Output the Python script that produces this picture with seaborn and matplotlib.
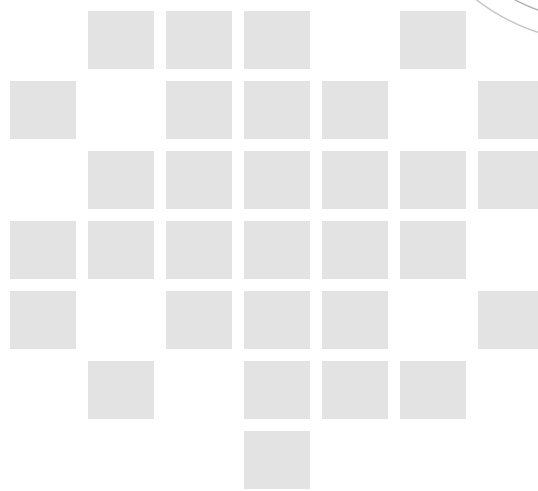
import matplotlib
matplotlib.use('Agg')
import matplotlib.pyplot as plt
import seaborn as sns
import numpy as np
import pandas as pd
from matplotlib.colors import ListedColormap
from matplotlib.patches import Arc

# grade de presença (1 = quadrado, 0 = vazio)
linha_0 = [0, 1, 1, 1, 0, 1, 0]
linha_1 = [1, 0, 1, 1, 1, 0, 1]
linha_2 = [0, 1, 1, 1, 1, 1, 1]
linha_3 = [1, 1, 1, 1, 1, 1, 0]
linha_4 = [1, 0, 1, 1, 1, 0, 1]
linha_5 = [0, 1, 0, 1, 1, 1, 0]
linha_6 = [0, 0, 0, 1, 0, 0, 0]

grade = pd.DataFrame([linha_0, linha_1, linha_2, linha_3, linha_4, linha_5, linha_6])
mascara = grade == 0

W, H = 538, 491
fig = plt.figure(figsize=(W / 100, H / 100), dpi=100)

# eixo do mapa (passa da borda direita, como no original)
ax = fig.add_axes([4 / W, -3.5 / H, 546 / W, 490 / H])
sns.heatmap(grade, mask=mascara, cmap=ListedColormap(['#e3e3e3']), cbar=False,
            linewidths=8.3, linecolor='white', ax=ax)
ax.set_axis_off()

# arcos decorativos no canto superior direito
ov = fig.add_axes([0, 0, 1, 1])
ov.set_xlim(0, W)
ov.set_ylim(H, 0)
ov.set_axis_off()
ov.patch.set_alpha(0)
ov.add_patch(Arc((600, -160), 2 * 202, 2 * 202, color='#c4c4c4', lw=1.0))
ov.add_patch(Arc((600, -160), 2 * 181, 2 * 181, color='#b0b0b0', lw=1.0))

fig.savefig('out.png', dpi=100)
